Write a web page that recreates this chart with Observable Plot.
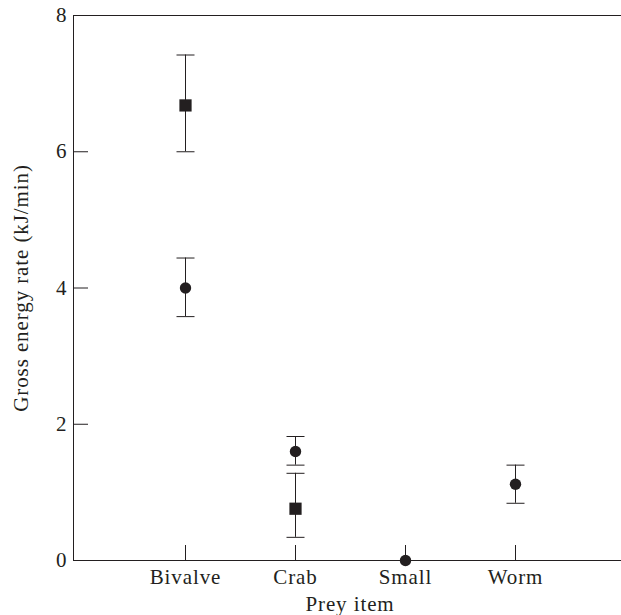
<!DOCTYPE html>
<html>
<head>
<meta charset="utf-8">
<script src="https://cdn.jsdelivr.net/npm/d3@7"></script>
<script src="https://cdn.jsdelivr.net/npm/@observablehq/plot@0.6"></script>
<style>
  html, body { margin: 0; padding: 0; background: #fff; }
</style>
</head>
<body>
<div id="chart"></div>
<script>
const prey = ["Bivalve", "Crab", "Small", "Worm"];
const circleMean = [4.0, 1.6, 0, 1.12];
const circleLow = [3.58, 1.40, null, 0.84];
const circleHigh = [4.44, 1.82, null, 1.40];
const squarePrey = ["Bivalve", "Crab"];
const squareMean = [6.68, 0.76];
const squareLow = [6.0, 0.34];
const squareHigh = [7.42, 1.28];
const yTicks = [0, 2, 4, 6, 8];

const ink = "#231f20";

const circles = prey.map((p, i) => ({prey: p, mean: circleMean[i], lo: circleLow[i], hi: circleHigh[i]}));
const squares = squarePrey.map((p, i) => ({prey: p, mean: squareMean[i], lo: squareLow[i], hi: squareHigh[i]}));
const bars = [...circles, ...squares].filter(d => d.lo != null && d.hi != null);
const caps = bars.flatMap(d => [{prey: d.prey, y: d.lo}, {prey: d.prey, y: d.hi}]);

const capSymbol = {
  draw(context, size) {
    const w = 9;
    context.moveTo(-w, 0);
    context.lineTo(w, 0);
  }
};

const chart = Plot.plot({
  width: 621,
  height: 615,
  marginLeft: 73,
  marginRight: -5,
  marginTop: 15,
  marginBottom: 55,
  style: {fontFamily: "'Liberation Serif', serif", fontSize: "21px", letterSpacing: "0.9px", color: ink, background: "#fff"},
  x: {type: "point", domain: prey, padding: 1},
  y: {domain: [0, 8]},
  marks: [
    Plot.frame({stroke: ink, strokeWidth: 1}),
    Plot.axisY({ticks: yTicks, tickSize: -15, tickPadding: 21, tickFormat: d => String(d),
      label: "Gross energy rate (kJ/min)", labelAnchor: "center", labelOffset: 60, labelArrow: "none", stroke: ink, fill: ink}),
    Plot.axisX({tickSize: -15, tickPadding: 24,
      label: "Prey item", labelAnchor: "center", labelOffset: 50, labelArrow: "none", stroke: ink, fill: ink}),
    Plot.ruleX(bars, {x: "prey", y1: "lo", y2: "hi", stroke: ink, strokeWidth: 1}),
    Plot.dot(caps, {x: "prey", y: "y", symbol: capSymbol, r: 5, fill: "none", stroke: ink, strokeWidth: 1}),
    Plot.dot(circles, {x: "prey", y: "mean", symbol: "circle", r: 5.7, fill: ink, stroke: "none"}),
    Plot.dot(squares, {x: "prey", y: "mean", symbol: "square", r: 6.9, fill: ink, stroke: "none"})
  ]
});
document.getElementById("chart").appendChild(chart);
</script>
</body>
</html>
